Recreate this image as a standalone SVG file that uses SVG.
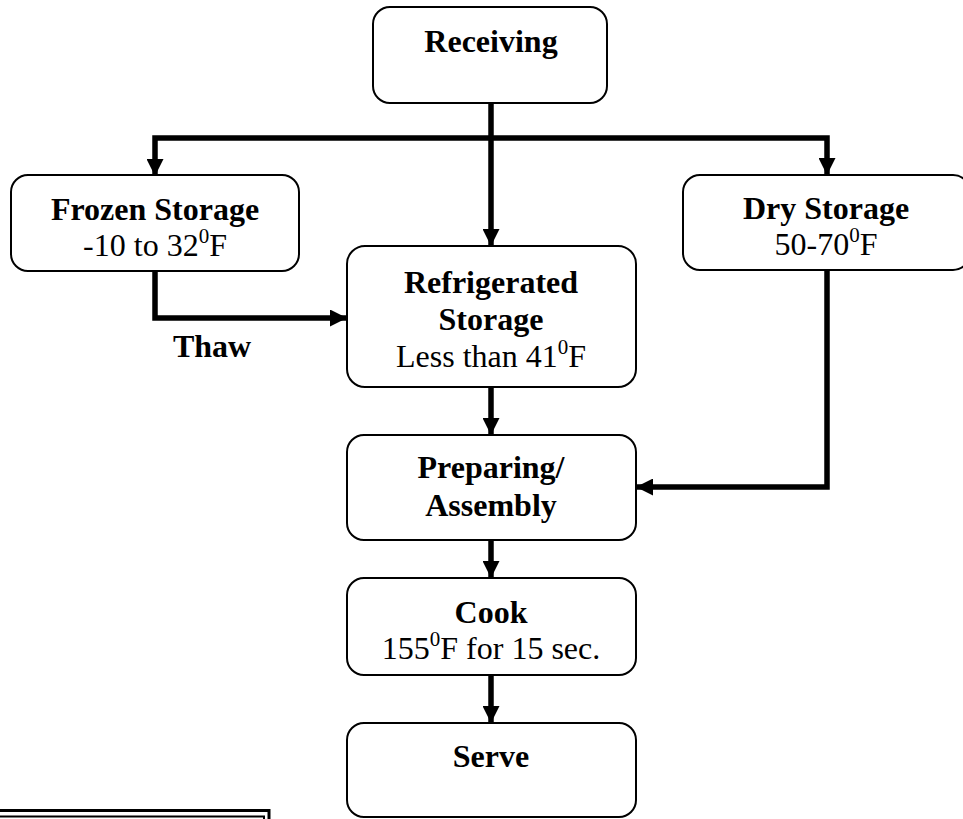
<svg xmlns="http://www.w3.org/2000/svg" width="963" height="819" viewBox="0 0 963 819">
<style>
.box{fill:#fff;stroke:#000;stroke-width:2}
.t{font-family:"Liberation Serif","Times New Roman",serif;font-size:32px;fill:#000;text-anchor:middle}
.b{font-weight:bold}
.sup{font-size:21px;baseline-shift:13px}
.conn{fill:none;stroke:#000;stroke-width:5.5}
</style>
<defs>
<marker id="ah" markerUnits="userSpaceOnUse" markerWidth="17" markerHeight="17" viewBox="0 0 17 17" refX="17" refY="8.5" orient="auto">
<path d="M0,0 L17,8.5 L0,17 Z" fill="#000"/>
</marker>
</defs>
<rect width="963" height="819" fill="#fff"/>
<g id="connectors">
<path class="conn" d="M491,103 V246" marker-end="url(#ah)"/>
<path class="conn" d="M491,138 H155 V176" marker-end="url(#ah)"/>
<path class="conn" d="M491,138 H827 V175" marker-end="url(#ah)"/>
<path class="conn" d="M155,271 V318 H347" marker-end="url(#ah)"/>
<path class="conn" d="M491,387 V435" marker-end="url(#ah)"/>
<path class="conn" d="M827,270 V487 H636" marker-end="url(#ah)"/>
<path class="conn" d="M491,540 V578" marker-end="url(#ah)"/>
<path class="conn" d="M491,675 V723" marker-end="url(#ah)"/>
<text class="t b" x="212" y="357">Thaw</text>
</g>
<g id="receiving">
<rect class="box" x="373" y="7" width="234" height="96" rx="17"/>
<text class="t b" x="491" y="52">Receiving</text>
</g>
<g id="frozen">
<rect class="box" x="11" y="175" width="288" height="96" rx="17"/>
<text class="t b" x="155" y="220">Frozen Storage</text>
<text class="t" x="155" y="256">-10 to 32<tspan class="sup">0</tspan>F</text>
</g>
<g id="dry">
<rect class="box" x="683" y="175" width="287" height="95" rx="17"/>
<text class="t b" x="826" y="219">Dry Storage</text>
<text class="t" x="826" y="255">50-70<tspan class="sup">0</tspan>F</text>
</g>
<g id="refrigerated">
<rect class="box" x="347" y="246" width="289" height="141" rx="18"/>
<text class="t b" x="491" y="293">Refrigerated</text>
<text class="t b" x="491" y="330">Storage</text>
<text class="t" x="491" y="367">Less than 41<tspan class="sup">0</tspan>F</text>
</g>
<g id="preparing">
<rect class="box" x="347" y="435" width="289" height="105" rx="17"/>
<text class="t b" x="491" y="478">Preparing/</text>
<text class="t b" x="491" y="516">Assembly</text>
</g>
<g id="cook">
<rect class="box" x="347" y="578" width="289" height="97" rx="17"/>
<text class="t b" x="491" y="623">Cook</text>
<text class="t" x="491" y="659">155<tspan class="sup">0</tspan>F for 15 sec.</text>
</g>
<g id="serve">
<rect class="box" x="347" y="723" width="289" height="94" rx="17"/>
<text class="t b" x="491" y="767">Serve</text>
</g>
<g id="frame">
<rect x="-10" y="810.5" width="279" height="40" fill="none" stroke="#000" stroke-width="3"/>
<rect x="-10" y="816.5" width="274" height="40" fill="none" stroke="#000" stroke-width="2"/>
</g>
</svg>
